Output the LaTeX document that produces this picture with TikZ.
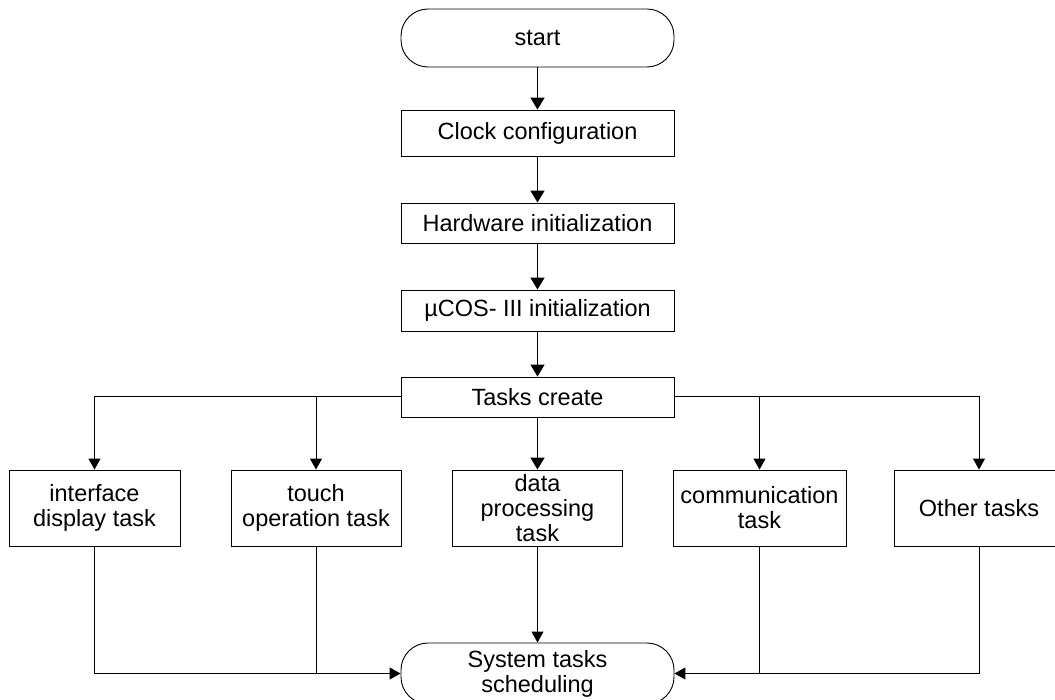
\documentclass[tikz,border=0pt]{standalone}
\usepackage{fontspec}
\setmainfont{Liberation Sans}
\usetikzlibrary{arrows.meta}
\begin{document}
\begin{tikzpicture}[x=1pt,y=-1pt,
  every node/.style={font=\fontsize{23.5}{25}\selectfont, align=center, inner sep=0pt},
  box/.style={draw, line width=0.9pt, minimum height=#1, minimum width=273pt},
  taskbox/.style={draw, line width=0.9pt, minimum height=76pt, minimum width=#1},
  term/.style={draw, line width=0.9pt, rounded corners=27pt, minimum width=273pt, minimum height=#1},
  mainarrow/.style={line width=1.6pt, -{Triangle[width=14pt,length=12pt]}},
  thinarrow/.style={line width=1pt, -{Triangle[width=12pt,length=11pt]}},
  thinline/.style={line width=1pt}]
\useasboundingbox (0,0) rectangle (1055,700);
\node[term=58pt] (start) at (537.5,38) {start};
\node[box=46pt] (clock) at (537.5,133) {Clock configuration};
\node[box=40pt] (hw) at (537.5,223) {Hardware initialization};
\node[box=41pt] (ucos) at (537.5,310.5) {µCOS- III initialization};
\node[box=40pt] (tasks) at (537.5,397) {Tasks create};
\node[taskbox=171pt] (iface) at (94.5,508) {interface\\display task};
\node[taskbox=170pt] (touch) at (316,508) {touch\\operation task};
\node[taskbox=170pt] (data) at (537.5,508) {data\\processing\\task};
\node[taskbox=173pt] (comm) at (759.5,508) {communication\\task};
\node[taskbox=170pt] (other) at (979,508) {Other tasks};
\node[term=61pt] (sys) at (537.5,673.5) {System tasks\\scheduling};
\draw[mainarrow] (start) -- (clock);
\draw[mainarrow] (clock) -- (hw);
\draw[mainarrow] (hw) -- (ucos);
\draw[mainarrow] (ucos) -- (tasks);
\draw[mainarrow] (tasks) -- (data);
\draw[thinarrow] (tasks.west) -| (iface.north);
\draw[thinarrow] (tasks.west -| touch.north) -- (touch.north);
\draw[thinarrow] (tasks.east) -| (other.north);
\draw[thinarrow] (tasks.east -| comm.north) -- (comm.north);
\draw[thinarrow] (iface.south) |- (sys.west);
\draw[thinline] (touch.south) -- (touch.south |- sys.west);
\draw[thinarrow] (data) -- (sys);
\draw[thinarrow] (other.south) |- (sys.east);
\draw[thinline] (comm.south) -- (comm.south |- sys.east);
\end{tikzpicture}
\end{document}
